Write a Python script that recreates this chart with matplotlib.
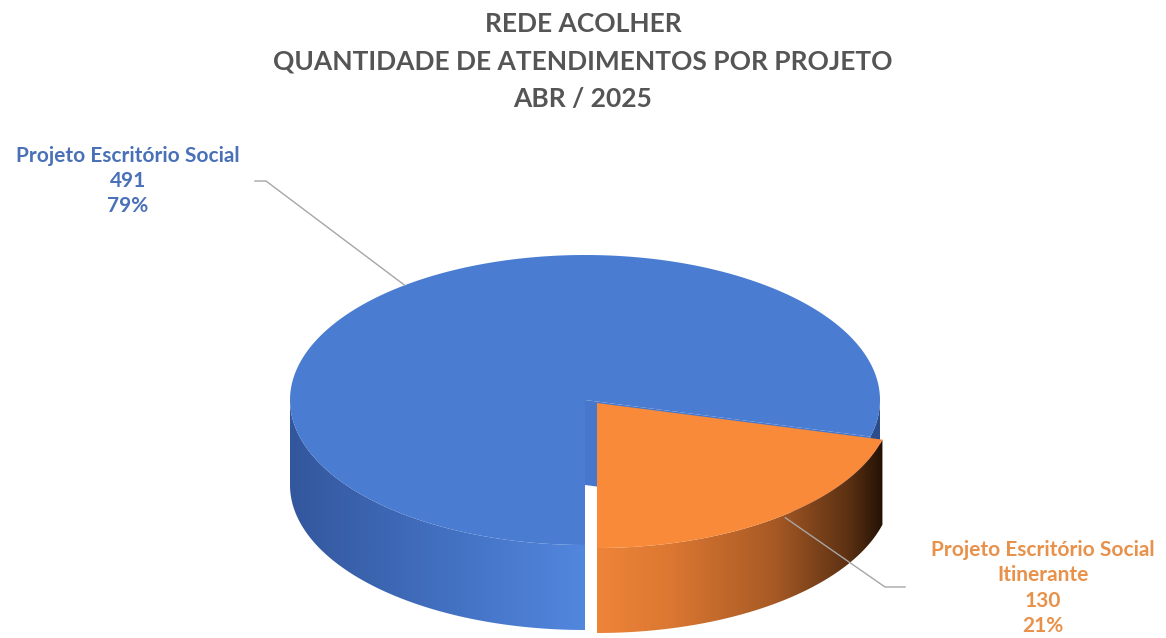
import matplotlib
matplotlib.use('Agg')
import matplotlib.pyplot as plt
from matplotlib.patches import Polygon
from matplotlib.colors import LinearSegmentedColormap
import numpy as np

# dados
titulo = ['REDE ACOLHER', 'QUANTIDADE DE ATENDIMENTOS POR PROJETO', 'ABR / 2025']
projetos = ['Projeto Escritório Social', 'Projeto Escritório Social\nItinerante']
atendimentos = [491, 130]

cores_topo = ['#4a7cd2', '#f98a3a']
cores_lado = [[(0.0, '#33579d'), (0.25, '#426fbf'), (0.5, '#5287de'),
               (0.75, '#426fbf'), (1.0, '#2c4c8a')],
              [(0.0, '#f08a40'), (0.5, '#ee8439'), (0.62, '#dc7832'),
               (0.8, '#a85a25'), (0.93, '#5a3012'), (1.0, '#150a02')]]
cores_texto = ['#4a70b8', '#e8914a']

# geometria da pizza 3D (em pixels)
CX, CY, RX, RY, ALTURA = 585, 400, 295, 145, 85
INICIO = 180  # graus, sentido horario a partir do topo
EXPLODE = [(0, 0), (12, 3)]


def ponto(theta, dx=0, dy=0, desce=0):
    t = np.radians(theta)
    return CX + dx + RX * np.sin(t), CY + dy - RY * np.cos(t) + desce


def partes_visiveis(a, b):
    # parte da borda lateral virada para frente (90..270 graus)
    res = []
    for k in range(-1, 3):
        lo, hi = 90 + 360 * k, 270 + 360 * k
        x0, x1 = max(a, lo), min(b, hi)
        if x1 > x0:
            res.append((x0, x1))
    return res


fig = plt.figure(figsize=(11.66, 6.38), dpi=100)
ax = fig.add_axes([0, 0, 1, 1])
ax.set_xlim(0, 1166)
ax.set_ylim(638, 0)
ax.axis('off')

total = sum(atendimentos)
angulos = []
a = INICIO
for v in atendimentos:
    b = a + 360 * v / total
    angulos.append((a, b))
    a = b

for i, (a, b) in enumerate(angulos):
    dx, dy = EXPLODE[i]
    z = 2 + i * 3

    # face do corte (lado final da fatia azul, visivel pela abertura)
    if i == 0:
        px, py = ponto(b, dx, dy)
        face = Polygon([(CX + dx, CY + dy), (px, py), (px, py + ALTURA),
                        (CX + dx, CY + dy + ALTURA)], closed=True,
                       facecolor='#4677cc', edgecolor='none', zorder=z)
        ax.add_patch(face)

    # parede lateral com degrade
    cmap = LinearSegmentedColormap.from_list('lado%d' % i, cores_lado[i])
    grad = np.linspace(0, 1, 256).reshape(1, -1)
    for (p0, p1) in partes_visiveis(a, b):
        th = np.linspace(p0, p1, 120)
        xt, yt = ponto(th, dx, dy)
        xb, yb = ponto(th[::-1], dx, dy, ALTURA)
        verts = np.column_stack([np.r_[xt, xb], np.r_[yt, yb]])
        parede = Polygon(verts, closed=True, facecolor='none', edgecolor='none')
        ax.add_patch(parede)
        img = ax.imshow(grad, cmap=cmap, aspect='auto',
                        extent=(CX - RX + dx, CX + RX + dx, 638, 0),
                        interpolation='bicubic', zorder=z + 1)
        img.set_clip_path(parede)

    # topo da fatia
    th = np.linspace(a, b, 300)
    xt, yt = ponto(th, dx, dy)
    verts = np.column_stack([np.r_[CX + dx, xt], np.r_[CY + dy, yt]])
    ax.add_patch(Polygon(verts, closed=True, facecolor=cores_topo[i],
                         edgecolor='none', zorder=z + 2))

ax.set_xlim(0, 1166)
ax.set_ylim(638, 0)

# rotulos e linhas de chamada
fonte = 'Lato'
pos_rotulo = [(128, 181), (1043, 588)]
for i, (a, b) in enumerate(angulos):
    dx, dy = EXPLODE[i]
    meio = (a + b) / 2
    pct = round(100 * atendimentos[i] / total)
    texto = '%s\n%d\n%d%%' % (projetos[i], atendimentos[i], pct)
    lx, ly = pos_rotulo[i]
    ax.text(lx, ly, texto, ha='center', va='center', fontsize=15,
            fontweight='bold', color=cores_texto[i], family=fonte,
            linespacing=1.33, zorder=20)
    mx, my = ponto(meio, dx, dy)
    if i == 0:
        ax.plot([255, 266, mx], [181, 181, my], color='#a6a6a6', lw=1, zorder=20)
    else:
        ax.plot([mx + 8, 885, 905], [my, 587, 587], color='#a6a6a6', lw=1, zorder=20)

for k, linha in enumerate(titulo):
    ax.text(583, 24 + k * 37.5, linha, ha='center', va='center', fontsize=19,
            fontweight='bold', color='#555555', family=fonte)

fig.savefig('out.png', dpi=100, facecolor='white')
plt.close(fig)
